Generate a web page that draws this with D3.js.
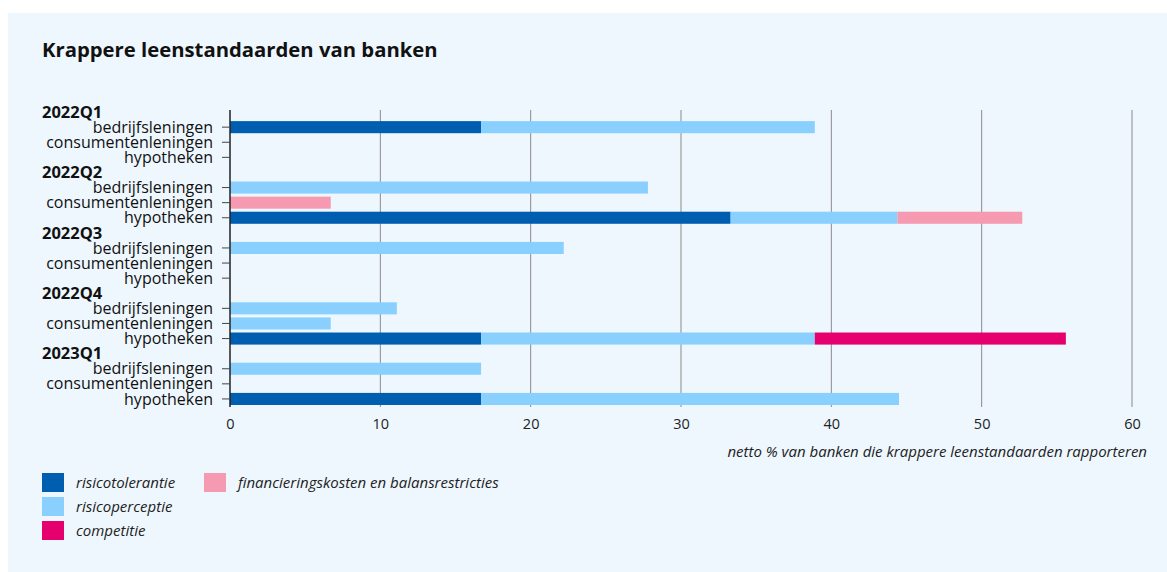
<!DOCTYPE html>
<html>
<head>
<meta charset="utf-8">
<script src="https://cdn.jsdelivr.net/npm/d3@7"></script>
<style>
  body { margin: 0; background: #fff; }
  svg { display: block; font-family: "Open Sans", sans-serif; }
</style>
</head>
<body>
<div id="chartArea"></div>
<script>
const quarters = ["2022Q1", "2022Q2", "2022Q3", "2022Q4", "2023Q1"];
const loanTypes = ["bedrijfsleningen", "consumentenleningen", "hypotheken"];
const seriesNames = ["risicotolerantie", "risicoperceptie", "competitie", "financieringskosten en balansrestricties"];
const seriesColors = ["#005eb0", "#89d0ff", "#e5006d", "#f59ab0"];

// values per quarter, per loan type (bedrijf, consument, hypotheek)
const risicotolerantie = [
  [16.7, 0, 0],
  [0, 0, 33.3],
  [0, 0, 0],
  [0, 0, 16.7],
  [0, 0, 16.7]
];
const risicoperceptie = [
  [22.2, 0, 0],
  [27.8, 0, 11.1],
  [22.2, 0, 0],
  [11.1, 6.7, 22.2],
  [16.7, 0, 27.8]
];
const competitie = [
  [0, 0, 0],
  [0, 0, 0],
  [0, 0, 0],
  [0, 0, 16.7],
  [0, 0, 0]
];
const financiering = [
  [0, 0, 0],
  [0, 6.7, 8.3],
  [0, 0, 0],
  [0, 0, 0],
  [0, 0, 0]
];
const xTicks = [0, 10, 20, 30, 40, 50, 60];

(function() {
  const W = 1167, H = 572;
  const svg = d3.select("#chartArea").append("svg")
    .attr("width", W).attr("height", H);

  svg.append("rect")
    .attr("x", 8).attr("y", 13)
    .attr("width", W - 8).attr("height", H - 13)
    .attr("fill", "#eef7fe");

  svg.append("text")
    .attr("x", 42).attr("y", 57)
    .attr("font-size", 20.3).attr("font-weight", 700)
    .attr("fill", "#111")
    .text("Krappere leenstandaarden van banken");

  // slots: one header slot + 3 rows per quarter
  const slots = [];
  quarters.forEach((q, qi) => {
    slots.push({ key: q, header: true, label: q });
    loanTypes.forEach((t, ti) => {
      slots.push({
        key: q + "|" + t, header: false, label: t, qi, ti,
        values: [risicotolerantie[qi][ti], risicoperceptie[qi][ti], competitie[qi][ti], financiering[qi][ti]]
      });
    });
  });

  const left = 230, right = 1132;
  const xScale = d3.scaleLinear().domain([0, 60]).range([left, right]);
  const yScale = d3.scaleBand()
    .domain(slots.map(d => d.key))
    .range([104.5, 406.5])
    .paddingInner(0.2)
    .paddingOuter(0.1);

  const top = 110, bottom = 407;

  // grid lines
  svg.append("g").selectAll("line")
    .data(xTicks.slice(1))
    .enter().append("line")
    .attr("x1", d => xScale(d)).attr("x2", d => xScale(d))
    .attr("y1", top).attr("y2", bottom)
    .attr("stroke", "#8a8a8a").attr("stroke-width", 1);

  // x axis labels
  const xAxis = d3.axisBottom(xScale).tickValues(xTicks).tickSize(0).tickPadding(12);
  const gx = svg.append("g")
    .attr("transform", "translate(0," + bottom + ")")
    .call(xAxis);
  gx.select(".domain").remove();
  gx.selectAll("text")
    .attr("font-size", 14.5).attr("fill", "#222")
    .attr("font-family", "Open Sans, sans-serif");

  svg.append("text")
    .attr("x", 1147).attr("y", 457)
    .attr("text-anchor", "end")
    .attr("font-size", 15).attr("font-style", "italic")
    .attr("fill", "#222")
    .text("netto % van banken die krappere leenstandaarden rapporteren");

  // stacked bars
  const rows = slots.filter(d => !d.header);
  const barGroups = svg.append("g").selectAll("g")
    .data(rows)
    .enter().append("g");
  barGroups.selectAll("rect")
    .data(d => {
      let x0 = 0;
      return d.values.map((v, i) => {
        const seg = { key: d.key, x0, x1: x0 + v, color: seriesColors[i] };
        x0 += v;
        return seg;
      }).filter(s => s.x1 > s.x0);
    })
    .enter().append("rect")
    .attr("x", d => xScale(d.x0))
    .attr("width", d => xScale(d.x1) - xScale(d.x0))
    .attr("y", d => yScale(d.key))
    .attr("height", yScale.bandwidth())
    .attr("fill", d => d.color);

  // y axis line
  svg.append("line")
    .attr("x1", left).attr("x2", left)
    .attr("y1", top).attr("y2", bottom)
    .attr("stroke", "#222").attr("stroke-width", 1.5);

  // row ticks and labels
  const yLabels = svg.append("g").selectAll("g")
    .data(slots)
    .enter().append("g")
    .attr("transform", d => "translate(0," + (yScale(d.key) + yScale.bandwidth() / 2) + ")");
  yLabels.filter(d => !d.header).append("line")
    .attr("x1", 222).attr("x2", left)
    .attr("stroke", "#444").attr("stroke-width", 1);
  yLabels.append("text")
    .attr("x", d => d.header ? 42 : 213)
    .attr("dy", "0.35em")
    .attr("text-anchor", d => d.header ? "start" : "end")
    .attr("font-size", d => d.header ? 16.5 : 16)
    .attr("font-weight", d => d.header ? 700 : 400)
    .attr("fill", "#111")
    .text(d => d.label);

  // legend
  const legendPos = [[42, 473], [42, 497], [42, 521], [204, 473]];
  const legend = svg.append("g").selectAll("g")
    .data(seriesNames)
    .enter().append("g")
    .attr("transform", (d, i) => "translate(" + legendPos[i][0] + "," + legendPos[i][1] + ")");
  legend.append("rect")
    .attr("width", 22).attr("height", 19)
    .attr("fill", (d, i) => seriesColors[i]);
  legend.append("text")
    .attr("x", 34).attr("y", 10).attr("dy", "0.35em")
    .attr("font-size", 15).attr("font-style", "italic")
    .attr("fill", "#222")
    .text(d => d);
})();
</script>
</body>
</html>
